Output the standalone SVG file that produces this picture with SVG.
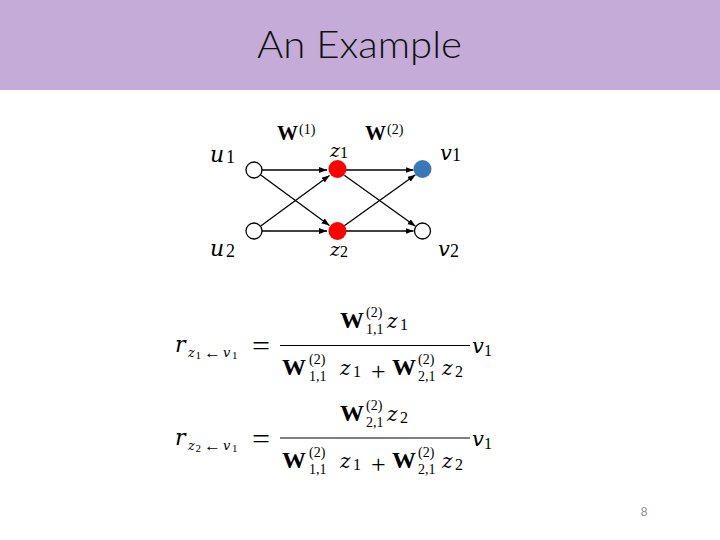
<svg xmlns="http://www.w3.org/2000/svg" width="720" height="540" viewBox="0 0 720 540">
<style>
.m{font-family:"Liberation Serif","DejaVu Serif",serif;fill:#000}
.i{font-family:"DejaVu Serif","Liberation Serif",serif;font-style:italic}
.b{font-weight:bold}
.edge{stroke:#000;stroke-width:1.3;fill:none;marker-end:url(#ah)}
.open{fill:#fff;stroke:#000;stroke-width:1.3}
</style>
<defs>
<marker id="ah" markerUnits="userSpaceOnUse" markerWidth="9" markerHeight="7" refX="8" refY="3" orient="auto">
<path d="M0,0 L8,3 L0,6 z" fill="#000"/>
</marker>
</defs>
<rect width="720" height="540" fill="#fff"/>
<rect x="0" y="0" width="720" height="90" fill="#c5acd8"/>
<text x="257" y="58" font-family="Lato,'Open Sans',sans-serif" font-weight="300" font-size="38" textLength="205" lengthAdjust="spacingAndGlyphs" fill="#111">An Example</text>

<g id="layer-labels">
<text class="m b" x="277" y="140" font-size="21">W</text><text class="m" x="299" y="134" font-size="14">(1)</text>
<text class="m b" x="365" y="140" font-size="21">W</text><text class="m" x="387" y="134" font-size="14">(2)</text>
</g>

<g id="connectors">
<line class="edge" x1="262" y1="170" x2="327" y2="170"/>
<line class="edge" x1="260.4" y1="174.7" x2="329.5" y2="225.6"/>
<line class="edge" x1="260.4" y1="226.3" x2="329.5" y2="175.4"/>
<line class="edge" x1="262" y1="231" x2="327" y2="231"/>
<line class="edge" x1="346" y1="170" x2="413.5" y2="170"/>
<line class="edge" x1="344.3" y1="175.2" x2="415.5" y2="226.3"/>
<line class="edge" x1="344.3" y1="225.8" x2="415.5" y2="174.7"/>
<line class="edge" x1="346" y1="231" x2="413.5" y2="231"/>
</g>

<g id="u1"><circle class="open" cx="254" cy="170" r="8"/><text class="m i" x="210" y="162" font-size="22">u</text><text class="m" x="226" y="163" font-size="18">1</text></g>
<g id="u2"><circle class="open" cx="254" cy="231" r="8"/><text class="m i" x="210" y="256" font-size="22">u</text><text class="m" x="226" y="257" font-size="18">2</text></g>
<g id="z1"><text class="m i" x="330" y="157" font-size="19">z</text><text class="m" x="340" y="158" font-size="16">1</text><circle cx="337.5" cy="169" r="9" fill="#f00"/></g>
<g id="z2"><circle cx="337.5" cy="231" r="9" fill="#f00"/><text class="m i" x="330" y="256" font-size="19">z</text><text class="m" x="340" y="257" font-size="16">2</text></g>
<g id="v1"><circle cx="422.5" cy="169" r="9" fill="#3a78b5"/><text class="m i" x="440" y="160" font-size="21">v</text><text class="m" x="452" y="161" font-size="18">1</text></g>
<g id="v2"><circle class="open" cx="422.5" cy="231" r="8"/><text class="m i" x="438" y="256" font-size="21">v</text><text class="m" x="450" y="257" font-size="18">2</text></g>

<g id="eq1">
<text class="m i" x="175" y="352" font-size="22">r</text>
<text class="m i" x="188" y="357" font-size="13">z</text><text class="m" x="195.5" y="359" font-size="11">1</text>
<text class="m" x="204" y="358" font-size="16" textLength="17" lengthAdjust="spacingAndGlyphs">←</text>
<text class="m i" x="223" y="357" font-size="13">v</text><text class="m" x="232" y="359" font-size="11">1</text>
<text class="m" x="252" y="355" font-size="28" textLength="18" lengthAdjust="spacingAndGlyphs">=</text>
<text class="m b" x="340" y="328" font-size="24">W</text><text class="m" x="366" y="317" font-size="14">(2)</text><text class="m" x="366" y="334" font-size="14">1,1</text>
<text class="m i" x="387" y="328" font-size="20">z</text><text class="m" x="400" y="330" font-size="16">1</text>
<line x1="280" y1="345.5" x2="470" y2="345.5" stroke="#000" stroke-width="1.1"/>
<text class="m b" x="282" y="375" font-size="24">W</text><text class="m" x="309" y="364" font-size="14">(2)</text><text class="m" x="309" y="381" font-size="14">1,1</text>
<text class="m i" x="340" y="375" font-size="20">z</text><text class="m" x="353" y="377" font-size="16">1</text>
<text class="m" x="371" y="380" font-size="26">+</text>
<text class="m b" x="392" y="375" font-size="24">W</text><text class="m" x="418" y="364" font-size="14">(2)</text><text class="m" x="418" y="381" font-size="14">2,1</text>
<text class="m i" x="442" y="375" font-size="20">z</text><text class="m" x="455" y="377" font-size="16">2</text>
<text class="m i" x="472" y="353" font-size="21">v</text><text class="m" x="484" y="356" font-size="16">1</text>
</g>

<g id="eq2" transform="translate(0,92.5)">
<text class="m i" x="175" y="352" font-size="22">r</text>
<text class="m i" x="188" y="357" font-size="13">z</text><text class="m" x="195.5" y="359" font-size="11">2</text>
<text class="m" x="204" y="358" font-size="16" textLength="17" lengthAdjust="spacingAndGlyphs">←</text>
<text class="m i" x="223" y="357" font-size="13">v</text><text class="m" x="232" y="359" font-size="11">1</text>
<text class="m" x="252" y="355" font-size="28" textLength="18" lengthAdjust="spacingAndGlyphs">=</text>
<text class="m b" x="340" y="328" font-size="24">W</text><text class="m" x="366" y="317" font-size="14">(2)</text><text class="m" x="366" y="334" font-size="14">2,1</text>
<text class="m i" x="387" y="328" font-size="20">z</text><text class="m" x="400" y="330" font-size="16">2</text>
<line x1="280" y1="345.5" x2="470" y2="345.5" stroke="#000" stroke-width="1.1"/>
<text class="m b" x="282" y="375" font-size="24">W</text><text class="m" x="309" y="364" font-size="14">(2)</text><text class="m" x="309" y="381" font-size="14">1,1</text>
<text class="m i" x="340" y="375" font-size="20">z</text><text class="m" x="353" y="377" font-size="16">1</text>
<text class="m" x="371" y="380" font-size="26">+</text>
<text class="m b" x="392" y="375" font-size="24">W</text><text class="m" x="418" y="364" font-size="14">(2)</text><text class="m" x="418" y="381" font-size="14">2,1</text>
<text class="m i" x="442" y="375" font-size="20">z</text><text class="m" x="455" y="377" font-size="16">2</text>
<text class="m i" x="472" y="353" font-size="21">v</text><text class="m" x="484" y="356" font-size="16">1</text>
</g>

<text x="644" y="516" font-family="'Liberation Sans',sans-serif" font-size="12" fill="#8a8a8a" text-anchor="middle">8</text>
</svg>
